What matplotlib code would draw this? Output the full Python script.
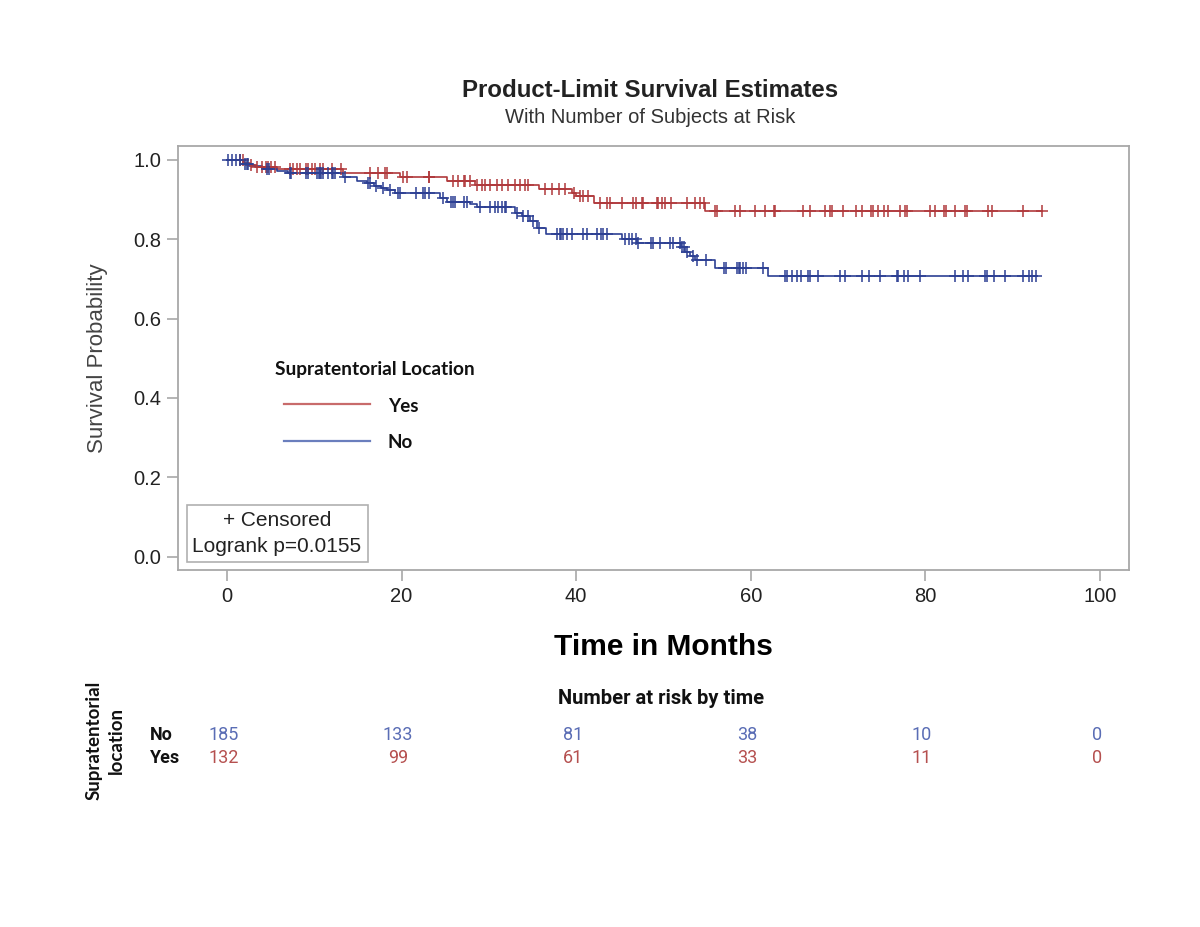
import matplotlib
matplotlib.use("Agg")
import matplotlib.pyplot as plt
import numpy as np

plt.rcParams['font.family'] = ['Liberation Sans', 'DejaVu Sans']

# Kaplan-Meier step data
yes_t = [0, 2.0, 2.6, 3.2, 5.7, 13.3, 19.8, 25.2, 28.4, 35.7, 39.5, 40.0, 42.0, 54.8, 93.3]
yes_s = [1.0, 0.992, 0.987, 0.983, 0.977, 0.966, 0.958, 0.947, 0.937, 0.926, 0.916, 0.908, 0.892, 0.871, 0.871]

no_t = [0, 1.8, 2.5, 4.0, 5.7, 7.0, 13.3, 14.9, 16.0, 16.8, 17.6, 18.3, 19.3, 24.4, 25.2,
        27.8, 28.7, 33.0, 33.8, 34.7, 35.5, 36.6, 45.2, 47.0, 52.0, 52.5, 53.0, 53.6,
        55.9, 62.0, 92.8]
no_s = [1.0, 0.989, 0.984, 0.978, 0.973, 0.968, 0.957, 0.947, 0.941, 0.935, 0.930, 0.924,
        0.916, 0.903, 0.895, 0.889, 0.880, 0.865, 0.858, 0.845, 0.828, 0.813, 0.800, 0.791,
        0.781, 0.769, 0.757, 0.747, 0.728, 0.708, 0.708]

yes_cens = [1.5, 1.9, 2.8, 3.4, 4.0, 4.5, 4.7, 5.1, 5.5, 7.2, 7.6, 8.0, 8.4, 9.1, 9.3, 9.7,
            10.1, 10.7, 11.0, 12.0, 13.1, 16.4, 17.3, 18.1, 18.3, 20.2, 20.6, 23.1, 23.2,
            25.9, 26.5, 27.1, 27.3, 27.8, 28.6, 29.2, 29.6, 30.1, 30.9, 31.5, 32.2, 33.0,
            33.6, 34.1, 34.5, 36.4, 37.2, 38.0, 38.7, 39.7, 40.4, 40.8, 41.4, 42.7,
            43.5, 43.9, 45.2, 46.5, 46.85, 47.5, 47.7, 49.2, 49.4, 49.8, 50.2, 50.9, 52.7,
            53.6, 54.2, 54.6, 55.9, 56.1, 58.2, 58.8, 60.5, 61.6, 62.6, 62.8, 66.0, 66.8,
            68.5, 69.1, 69.3, 70.6, 72.1, 72.7, 73.8, 74.0, 74.6, 75.2, 75.7, 77.1, 77.7,
            77.9, 80.5, 81.1, 82.1, 82.4, 83.4, 84.5, 84.7, 87.2, 87.6, 91.2, 93.3]

no_cens = [0.1, 0.6, 1.1, 1.5, 2.1, 2.3, 2.4, 4.6, 4.8, 7.2, 7.4, 9.1, 9.3, 10.3, 10.5, 10.7,
           10.8, 11.0, 11.6, 12.0, 12.2, 12.4, 13.5, 16.2, 16.4, 17.1, 17.9, 18.7, 19.6,
           19.8, 21.7, 22.5, 22.7, 23.1, 24.8, 25.7, 25.9, 26.1, 27.1, 27.5, 29.0, 30.1,
           30.7, 31.1, 31.5, 31.8, 32.0, 33.2, 33.9, 34.5, 35.1, 35.7, 37.8, 38.1, 38.3,
           38.5, 38.9, 39.5, 40.8, 41.2, 42.4, 42.9, 43.1, 43.5, 45.6, 46.0, 46.4, 46.9,
           47.1, 48.6, 48.8, 49.6, 50.7, 51.1, 51.9, 52.1, 52.3, 52.7, 53.4, 53.8, 54.9,
           56.9, 57.2, 58.4, 58.6, 58.8, 59.1, 59.5, 61.4, 63.9, 64.1, 64.7, 65.3, 65.8,
           66.6, 66.8, 67.7, 70.2, 70.8, 72.7, 73.5, 74.8, 76.7, 76.9, 77.5, 78.0, 79.4,
           83.4, 84.3, 84.9, 86.8, 87.0, 87.8, 89.1, 91.2, 91.8, 92.2, 92.6]

risk_times = [0, 20, 40, 60, 80, 100]
risk_no = [185, 133, 81, 38, 10, 0]
risk_yes = [132, 99, 61, 33, 11, 0]

red = '#B0393C'
blue = '#2C3F93'


def surv_at(t_list, s_list, tc):
    t = np.array(t_list)
    s = np.array(s_list)
    idx = np.searchsorted(t, tc, side='right') - 1
    return s[np.clip(idx, 0, len(s) - 1)]


fig = plt.figure(figsize=(12, 9.27), dpi=100)
ax = fig.add_axes([0.1483, 0.3851, 0.7925, 0.4574])

ax.step(yes_t, yes_s, where='post', color=red, lw=1.2)
ax.step(no_t, no_s, where='post', color=blue, lw=1.2)
ax.plot(yes_cens, surv_at(yes_t, yes_s, yes_cens), ls='none', marker='+',
        ms=8, mew=1.1, color=red)
ax.plot(no_cens, surv_at(no_t, no_s, no_cens), ls='none', marker='+',
        ms=8, mew=1.1, color=blue)

ax.set_xlim(-5.6, 103.3)
ax.set_ylim(-0.034, 1.035)
ax.set_xticks([0, 20, 40, 60, 80, 100])
ax.set_yticks([0.0, 0.2, 0.4, 0.6, 0.8, 1.0])
ax.set_yticklabels(['0.0', '0.2', '0.4', '0.6', '0.8', '1.0'])
for sp in ax.spines.values():
    sp.set_color('#A8A8A8')
    sp.set_linewidth(1.3)
ax.tick_params(direction='out', length=8, width=1.2, color='#A8A8A8',
               labelsize=14.5, labelcolor='#222222', pad=4)

ax.set_ylabel('Survival Probability', fontsize=16, color='#444444', labelpad=18)

fig.text(0.542, 0.902, 'Product-Limit Survival Estimates', ha='center', va='center',
         fontsize=17.3, fontweight='bold', color='#222222')
fig.text(0.542, 0.873, 'With Number of Subjects at Risk', ha='center', va='center',
         fontsize=14.5, color='#333333')

fig.text(0.5525, 0.302, 'Time in Months', ha='center', va='center',
         fontsize=21.5, fontweight='bold', color='black')

# legend
lf = ['Lato', 'DejaVu Sans']
fig.text(0.229, 0.601, 'Supratentorial Location', ha='left', va='center',
         fontsize=13.8, fontweight='bold', family=lf, color='#111111')
fig.add_artist(plt.Line2D([284 / 1200, 370 / 1200], [1 - 404 / 927, 1 - 404 / 927],
                          color='#C86B6B', lw=1.6))
fig.add_artist(plt.Line2D([284 / 1200, 370 / 1200], [1 - 441 / 927, 1 - 441 / 927],
                          color='#6A7EBD', lw=1.6))
fig.text(388 / 1200, 1 - 406 / 927, 'Yes', ha='left', va='center', fontsize=13.5,
         fontweight='bold', family=lf, color='#111111')
fig.text(388 / 1200, 1 - 442 / 927, 'No', ha='left', va='center', fontsize=13.5,
         fontweight='bold', family=lf, color='#111111')

# censored / logrank box
fig.add_artist(plt.Rectangle((187 / 1200, 1 - 562 / 927), 181 / 1200, 57 / 927,
                             fill=False, edgecolor='#B0B0B0', lw=1.2))
fig.text(277 / 1200, 1 - 520 / 927, '+ Censored', ha='center', va='center',
         fontsize=15, color='#222222')
fig.text(277 / 1200, 1 - 546 / 927, 'Logrank p=0.0155', ha='center', va='center',
         fontsize=15, color='#222222')

# number at risk table
nf = ['Roboto', 'DejaVu Sans']
fig.text(661 / 1200, 1 - 698 / 927, 'Number at risk by time', ha='center', va='center',
         fontsize=14.5, fontweight='bold', family=nf, color='#111111')
fig.text(150 / 1200, 1 - 735 / 927, 'No', ha='left', va='center', fontsize=13,
         fontweight='bold', family=nf, color='#111111')
fig.text(150 / 1200, 1 - 758 / 927, 'Yes', ha='left', va='center', fontsize=13,
         fontweight='bold', family=nf, color='#111111')
trans = matplotlib.transforms.blended_transform_factory(ax.transData, fig.transFigure)
for t, n_no, n_yes in zip(risk_times, risk_no, risk_yes):
    ax.text(t - 0.4, 1 - 735 / 927, str(n_no), transform=trans, ha='center', va='center',
            fontsize=13, family=nf, color='#5A6DB5', clip_on=False)
    ax.text(t - 0.4, 1 - 758 / 927, str(n_yes), transform=trans, ha='center', va='center',
            fontsize=13, family=nf, color='#B5504F', clip_on=False)

fig.text(105 / 1200, 1 - 740 / 927, 'Supratentorial\nlocation', ha='center', va='center',
         rotation=90, fontsize=13.5, fontweight='bold', family=lf, color='#111111',
         linespacing=1.4)

fig.savefig('out.png', dpi=100)
